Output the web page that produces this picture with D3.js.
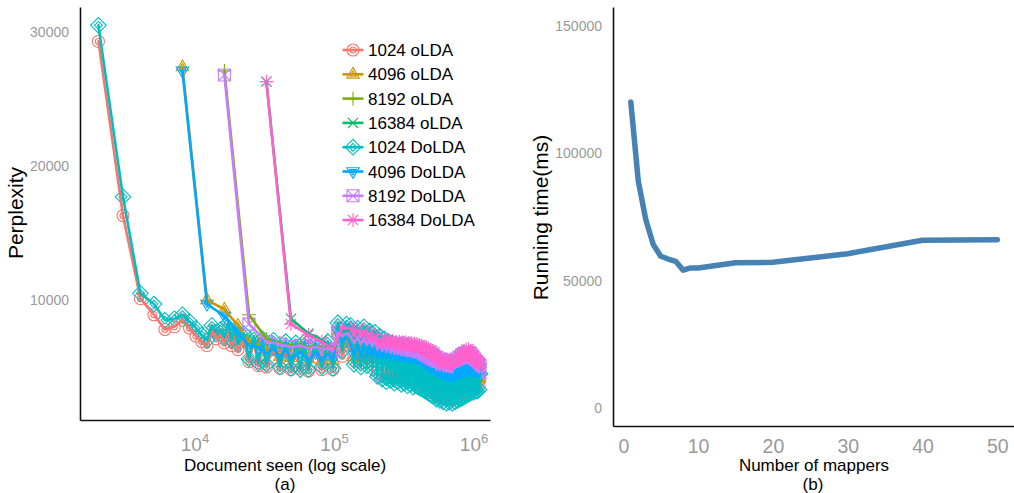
<!DOCTYPE html>
<html><head><meta charset="utf-8">
<script src="https://cdn.jsdelivr.net/npm/d3@7"></script>
<style>body{margin:0;background:#fff;} svg{display:block;font-family:"Liberation Sans",Arial,Helvetica,sans-serif;}</style>
</head><body><svg id="c" width="1014" height="493"></svg>
<script>
// ---------- Panel (a) data ----------
const seriesNames = ["1024 oLDA","4096 oLDA","8192 oLDA","16384 oLDA","1024 DoLDA","4096 DoLDA","8192 DoLDA","16384 DoLDA"];
const seriesColors = ["#F8766D","#CD9600","#7CAE00","#00BE67","#00BFC4","#00A9FF","#C77CFF","#FF61CC"];
const seriesShapes = ["circle","triangle","plus","cross","diamond","triangleDown","squareCross","asterisk"];

// documents seen (checkpoints)
const head1024 = [2048,3072,4096,5120,6144,7168,8192,9216,10240,11264,12288,13312,14336,15360,16384,17408,18432,19456,20480,22528,24576,26624,28672,30720,32768,36864,40960,45056,49152,53248,57344,61440,65536,73728,81920,90112,98304,106496,114688,122880];
const head4096 = [8192,12288,16384,20480,24576,28672,32768,36864,40960,45056,49152,57344,65536,73728,81920,90112,98304,106496,114688,122880];
const head8192 = [16384,24576,32768,40960,49152,57344,65536,73728,81920,90112,98304,106496,114688,122880];
const head16384 = [32768,49152,65536,81920,98304,114688];
const tailDocs = [131072,139264,147456,155648,163840,172032,180224,188416,196608,204800,212992,221184,229376,237568,245760,253952,262144,270336,278528,286720,294912,303104,311296,319488,327680,335872,344064,352256,360448,368640,376832,385024,393216,401408,409600,417792,425984,434176,442368,450560,458752,466944,475136,483328,491520,499712,507904,516096,524288,
  540672,557056,573440,589824,606208,622592,638976,655360,671744,688128,704512,720896,737280,753664,770048,786432,802816,819200,835584,851968,868352,884736,901120,917504,933888,950272,966656,983040,999424,1015808,1032192,1048576,1064960,1081344,1097728,1114112];

// perplexity: head values, then tail values
const oLDA1024 = [29300,16300,10100,8900,7800,8000,8500,7900,7300,6900,6600,7700,7100,7400,6800,7800,6600,7300,6300,
  7000,5400,6900,5100,6700,5000,6500,4900,6400,4800,6300,4900,6400,4700,6300,4800,6400,4800,7900,5800,7700,
  7700,5500,7500,5300,7600,5400,7300,5200,7200,4600,6900,4400,6700,4200,6500,4300,6400,4100,6300,4200,6200,4000,6300,4100,6100,3900,6200,4000,6000,3800,5900,3900,5800,3800,5600,3700,5400,3600,5200,3500,5100,3400,4900,3300,4800,3200,4700,3100,4600,
  2900,4500,2800,4400,2700,4300,2600,4200,2650,4100,2600,4100,2700,4150,2800,4200,2900,4200,3000,4300,3100,4300,3200,4300,3300,4200,3400,4300,3400,4200,3500,4100,3500,4200,3600,4100];
const oLDA4096 = [27400,10000,9300,8100,6900,6700,6100,6500,5800,6400,5700,6300,5600,6200,5500,6100,5500,7500,6800,7100,
  6550,5750,6500,5700,6450,5650,6400,5600,6350,5550,6250,5500,6200,5450,6150,5400,6100,5350,6050,5350,6000,5300,5950,5250,5950,5250,5900,5200,5850,5200,5800,5150,5750,5050,5650,4950,5550,4850,5450,4750,5350,4650,5250,4550,5150,4450,5100,4350,5050,
  4150,4850,4050,4800,3950,4750,3850,4700,3800,4650,3750,4700,3850,4750,3950,4850,4050,4900,4100,4950,4150,5000,4200,5000,4250,4950,4200,4900,4150,4850,4150,4800,4150,4800,4150,4750];
const oLDA8192 = [27100,8900,7100,6800,6600,6700,6500,6600,6300,6500,6200,7500,7200,7300,
  7150,6650,7100,6550,7000,6500,6950,6400,6850,6150,6750,6050,6650,5950,6600,5900,6550,5850,6500,5800,6450,5750,6400,5700,6350,5650,6350,5650,6300,5600,6250,5550,6250,5450,6150,5350,6050,5250,5950,5150,5850,5050,5800,5000,5750,4900,5700,4850,5650,
  4650,5450,4600,5400,4550,5350,4500,5300,4450,5250,4450,5300,4750,5450,4850,5600,4950,5750,5050,5850,5100,5900,5150,5950,5050,5850,4950,5650,4800,5450,4650,5250,4550,5100,4450,4950];
const oLDA16384 = [26300,8600,7500,7000,6400,7700,
  7750,7150,7650,7050,7550,6900,7400,6750,7250,6450,6950,6350,6900,6300,6850,6250,6800,6200,6750,6150,6750,6150,6700,6100,6700,6050,6650,6050,6650,6000,6600,5950,6550,5950,6500,5850,6450,5750,6350,5650,6250,5550,6200,5450,6100,5350,6050,5250,5950,
  4950,5650,4850,5550,4800,5450,4750,5350,4700,5250,4650,5300,4850,5450,4950,5650,5100,5850,5200,6000,5300,6150,5350,6200,5250,6050,5150,5850,5050,5650,4900,5450,4800,5300,4700,5150];
const DoLDA1024 = [30500,17700,10500,9700,8500,8600,8900,8400,7900,7400,7000,8100,7600,7800,7200,8300,7000,7800,6700,
  7500,5600,7300,5300,7100,5200,7000,5000,6900,4900,6800,4800,6900,4800,6800,5000,6900,4900,8300,6200,8200,
  8100,5200,7900,5000,8000,5100,7700,4900,7600,4300,7300,4100,7100,3900,6900,4000,6800,3800,6700,3900,6600,3700,6700,3800,6500,3600,6600,3700,6400,3500,6300,3600,6200,3500,6000,3400,5800,3300,5600,3200,5500,3100,5300,3000,5200,2900,5100,2800,5000,
  2600,4900,2500,4800,2400,4700,2300,4600,2350,4500,2300,4500,2400,4550,2500,4600,2600,4600,2700,4700,2800,4700,2900,4700,3000,4600,3100,4700,3100,4600,3200,4500,3200,4600,3300,4500];
const DoLDA4096 = [27100,9700,8800,7600,6600,6500,6000,6400,5700,6300,5600,6200,5500,6100,5500,6000,5600,7700,6900,7300,
  6700,5900,6650,5850,6600,5800,6550,5750,6500,5700,6400,5650,6350,5600,6300,5550,6250,5500,6200,5500,6150,5450,6100,5400,6100,5400,6050,5350,6000,5350,5950,5300,5900,5200,5800,5100,5700,5000,5600,4900,5500,4800,5400,4700,5300,4600,5250,4500,5200,
  4300,5000,4200,4950,4100,4900,4000,4850,3950,4800,3900,4850,4000,4900,4100,5000,4200,5050,4250,5100,4300,5150,4350,5150,4400,5100,4350,5050,4300,5000,4300,4950,4300,4950,4300,4900];
const DoLDA8192 = [26800,8200,6900,6700,6500,6600,6400,6500,6300,6400,6200,7600,7300,7500,
  7300,6800,7250,6700,7150,6650,7100,6550,7000,6300,6900,6200,6800,6100,6750,6050,6700,6000,6650,5950,6600,5900,6550,5850,6500,5800,6500,5800,6450,5750,6400,5700,6400,5600,6300,5500,6200,5400,6100,5300,6000,5200,5950,5150,5900,5050,5850,5000,5800,
  4800,5600,4750,5550,4700,5500,4650,5450,4600,5400,4600,5450,4900,5600,5000,5750,5100,5900,5200,6000,5250,6050,5300,6100,5200,6000,5100,5800,4950,5600,4800,5400,4700,5250,4600,5100];
const DoLDA16384 = [26300,8200,7400,6900,6300,7900,
  7900,7300,7800,7200,7700,7050,7550,6900,7400,6600,7100,6500,7050,6450,7000,6400,6950,6350,6900,6300,6900,6300,6850,6250,6850,6200,6800,6200,6800,6150,6750,6100,6700,6100,6650,6000,6600,5900,6500,5800,6400,5700,6350,5600,6250,5500,6200,5400,6100,
  5100,5800,5000,5700,4950,5600,4900,5500,4850,5400,4800,5450,5000,5600,5100,5800,5250,6000,5350,6150,5450,6300,5500,6350,5400,6200,5300,6000,5200,5800,5050,5600,4950,5450,4850,5300];

const yTicksA = [10000,20000,30000];
const xTicksA = [1e4,1e5,1e6];

// ---------- Panel (b) data ----------
const mappers = [1,2,3,4,5,6,7,8,9,10,15,20,30,40,50];
const runningTime = [120200,89100,74000,64200,59600,58500,57600,54100,55000,55000,57000,57200,60600,65900,66100];
const yTicksB = [0,50000,100000,150000];
const xTicksB = [0,10,20,30,40,50];

// ---------- build ----------
const xs = [
  head1024.concat(tailDocs), head4096.concat(tailDocs), head8192.concat(tailDocs), head16384.concat(tailDocs),
  head1024.concat(tailDocs), head4096.concat(tailDocs), head8192.concat(tailDocs), head16384.concat(tailDocs)];
const ys = [oLDA1024,oLDA4096,oLDA8192,oLDA16384,DoLDA1024,DoLDA4096,DoLDA8192,DoLDA16384];
const series = seriesNames.map((n,i)=>({name:n,color:seriesColors[i],shape:seriesShapes[i],
  pts: ys[i].map((v,j)=>({x:xs[i][j],y:v})).filter(p=>p.x!==undefined)}));

const svg = d3.select("#c");
const FONT = '"Liberation Sans",Arial,Helvetica,sans-serif';

function shapePath(shape, r){
  const tri = (h,dir)=>`M0,${-h*dir}L${h*0.9},${h*0.55*dir}L${-h*0.9},${h*0.55*dir}Z`;
  switch(shape){
    case "circle": return `M${r},0A${r},${r} 0 1,1 ${-r},0A${r},${r} 0 1,1 ${r},0Z`;
    case "triangle": return tri(r*1.15,1);
    case "triangleDown": return tri(r*1.15,-1);
    case "plus": return `M${-r*1.15},0H${r*1.15}M0,${-r*1.15}V${r*1.15}`;
    case "cross": return `M${-r*0.85},${-r*0.85}L${r*0.85},${r*0.85}M${-r*0.85},${r*0.85}L${r*0.85},${-r*0.85}`;
    case "diamond": return `M0,${-r*1.3}L${r*1.3},0L0,${r*1.3}L${-r*1.3},0Z`;
    case "squareCross": return `M${-r},${-r}H${r}V${r}H${-r}Z M${-r},${-r}L${r},${r}M${-r},${r}L${r},${-r}`;
    case "asterisk": return `M${-r*1.15},0H${r*1.15}M0,${-r*1.15}V${r*1.15}M${-r*0.85},${-r*0.85}L${r*0.85},${r*0.85}M${-r*0.85},${r*0.85}L${r*0.85},${-r*0.85}`;
  }
}
const innerShapes = {circle:true,triangle:true,triangleDown:true,diamond:true};
function drawMarker(g, shape, color, r){
  g.append("path").attr("d",shapePath(shape,r)).attr("fill","none").attr("stroke",color).attr("stroke-width",1.1);
  if(innerShapes[shape]) g.append("path").attr("d",shapePath(shape,r*0.5)).attr("fill","none").attr("stroke",color).attr("stroke-width",1.1);
}

// Panel (a)
const xA = d3.scaleLog().domain([1511,1313000]).range([80,490]);
const yA = d3.scaleLinear().domain([1045,31870]).range([420,7]);
const pA = svg.append("g");
const ptsLayer = pA.append("g");
series.forEach(s=>{
  const g = ptsLayer.append("g");
  s.pts.forEach(p=>{
    const m = g.append("g").attr("transform",`translate(${xA(p.x)},${yA(p.y)})`);
    drawMarker(m, s.shape, s.color, 6);
  });
});
const lineA = d3.line().x(d=>xA(d.x)).y(d=>yA(d.y));
const linesLayer = pA.append("g");
series.forEach(s=>{
  linesLayer.append("path").attr("d",lineA(s.pts)).attr("fill","none").attr("stroke",s.color)
    .attr("stroke-width",2.6).attr("stroke-linejoin","round").attr("stroke-linecap","round");
});

const gyA = svg.append("g").attr("transform","translate(80,0)")
  .call(d3.axisLeft(yA).tickValues(yTicksA).tickSize(0).tickSizeOuter(0).tickPadding(11).tickFormat(d3.format("d")));
gyA.select(".domain").attr("stroke","#111").attr("stroke-width",1.6);
gyA.selectAll("text").attr("fill","#999").attr("font-size",14).attr("font-family",FONT);

const gxA = svg.append("g").attr("transform","translate(0,420)")
  .call(d3.axisBottom(xA).tickValues(xTicksA).tickSize(0).tickSizeOuter(0).tickFormat(""));
gxA.select(".domain").attr("stroke","#111").attr("stroke-width",1.6);
gxA.selectAll(".tick text").each(function(d){
  const t = d3.select(this).attr("y",31).attr("dy",null).attr("fill","#999").attr("font-family",FONT).attr("text-anchor","middle");
  t.text(null);
  t.append("tspan").attr("font-size",19).text("10");
  t.append("tspan").attr("font-size",13).attr("dy",-8.5).text(Math.round(Math.log10(d)));
});

svg.append("text").attr("transform","translate(23,213) rotate(-90)").attr("text-anchor","middle")
  .attr("font-size",21).attr("font-family",FONT).attr("fill","#000").text("Perplexity");
svg.append("text").attr("x",285).attr("y",470.5).attr("text-anchor","middle").attr("font-size",17)
  .attr("font-family",FONT).attr("fill","#000").text("Document seen (log scale)");
svg.append("text").attr("x",285).attr("y",490).attr("text-anchor","middle").attr("font-size",17)
  .attr("font-family",FONT).attr("fill","#000").text("(a)");

// Legend
const leg = svg.append("g");
series.forEach((s,i)=>{
  const cy = 50 + i*24.3;
  const g = leg.append("g").attr("transform",`translate(0,${cy})`);
  g.append("line").attr("x1",342.5).attr("x2",363.5).attr("y1",0).attr("y2",0).attr("stroke",s.color).attr("stroke-width",2.6);
  const m = g.append("g").attr("transform","translate(353,0)");
  drawMarker(m, s.shape, s.color, 6);
  g.append("text").attr("x",368).attr("y",0).attr("dy","0.36em").attr("font-size",17).attr("font-family",FONT)
    .attr("fill","#000").text(s.name);
});

// Panel (b)
const xB = d3.scaleLinear().domain([-1.38,52.23]).range([613,1014]);
const yB = d3.scaleLinear().domain([-7068,157460]).range([426,7]);
const dataB = mappers.map((m,i)=>({x:m,y:runningTime[i]}));
svg.append("path").attr("d",d3.line().x(d=>xB(d.x)).y(d=>yB(d.y))(dataB)).attr("fill","none")
  .attr("stroke","#4682B4").attr("stroke-width",5.5).attr("stroke-linejoin","round").attr("stroke-linecap","round");

const gyB = svg.append("g").attr("transform","translate(613,0)")
  .call(d3.axisLeft(yB).tickValues(yTicksB).tickSize(0).tickSizeOuter(0).tickPadding(11).tickFormat(d3.format("d")));
gyB.select(".domain").attr("stroke","#111").attr("stroke-width",1.6);
gyB.selectAll("text").attr("fill","#999").attr("font-size",14).attr("font-family",FONT);

const gxB = svg.append("g").attr("transform","translate(0,426)")
  .call(d3.axisBottom(xB).tickValues(xTicksB).tickSize(0).tickSizeOuter(0).tickFormat(d3.format("d")));
gxB.select(".domain").attr("stroke","#111").attr("stroke-width",1.6);
gxB.selectAll("text").attr("y",27).attr("dy",null).attr("fill","#999").attr("font-size",19.5).attr("font-family",FONT);

svg.append("text").attr("transform","translate(548,217.5) rotate(-90)").attr("text-anchor","middle")
  .attr("font-size",21).attr("font-family",FONT).attr("fill","#000").text("Running time(ms)");
svg.append("text").attr("x",814).attr("y",470.5).attr("text-anchor","middle").attr("font-size",17)
  .attr("font-family",FONT).attr("fill","#000").text("Number of mappers");
svg.append("text").attr("x",813).attr("y",490).attr("text-anchor","middle").attr("font-size",17)
  .attr("font-family",FONT).attr("fill","#000").text("(b)");
</script>
</body></html>
